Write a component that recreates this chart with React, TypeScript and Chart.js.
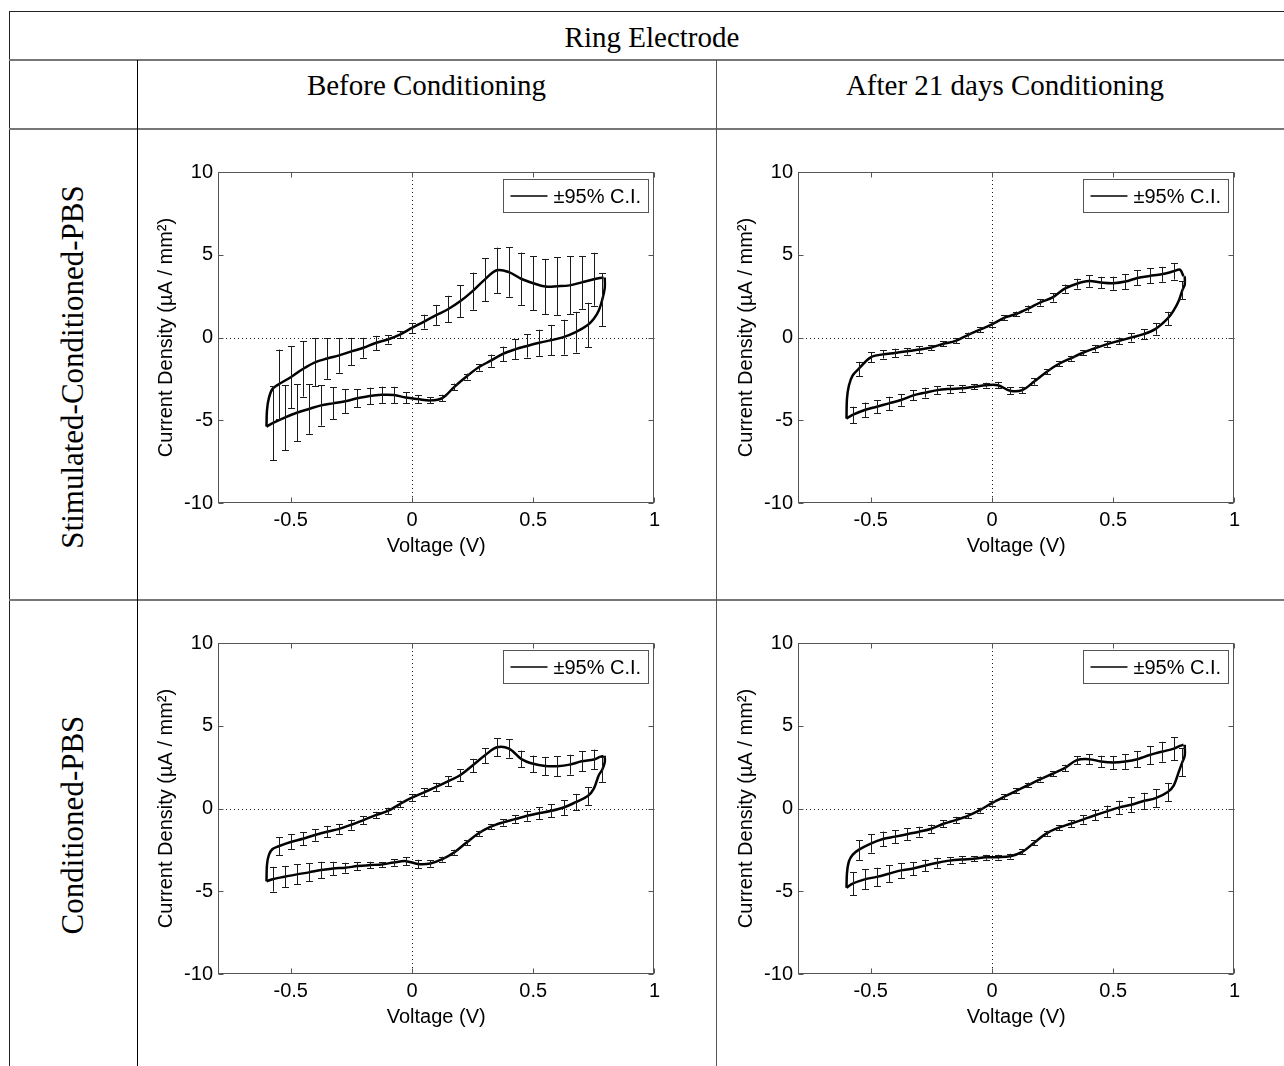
import React, { useEffect, useRef } from "react";
import { Chart, registerables } from "chart.js";

Chart.register(...registerables);

// ---------- data ----------
const X_TICKS = [-0.5, 0, 0.5, 1];
const Y_TICKS = [-10, -5, 0, 5, 10];

// voltage grid of the anodic (forward, upper) scan
const FWD_V = [-0.6, -0.598, -0.59, -0.575, -0.55, -0.5, -0.45, -0.4, -0.35, -0.3, -0.25, -0.2, -0.15, -0.1, -0.05, 0, 0.05, 0.1, 0.15, 0.2, 0.25, 0.3, 0.35, 0.4, 0.45, 0.5, 0.55, 0.6, 0.65, 0.7, 0.75, 0.775, 0.79];
// voltage grid of the cathodic (reverse, lower) scan
const REV_V = [0.795, 0.795, 0.785, 0.77, 0.75, 0.725, 0.675, 0.625, 0.575, 0.525, 0.475, 0.425, 0.375, 0.325, 0.275, 0.225, 0.175, 0.125, 0.075, 0.025, -0.025, -0.075, -0.125, -0.175, -0.225, -0.275, -0.325, -0.375, -0.425, -0.475, -0.525, -0.575, -0.6];

// Stimulated-Conditioned-PBS, before conditioning
const P1_FWD_I = [-5.38, -4.4, -3.65, -3.1, -2.83, -2.4, -1.9, -1.5, -1.27, -1.08, -0.84, -0.62, -0.33, -0.12, 0.18, 0.58, 0.96, 1.35, 1.72, 2.2, 2.8, 3.5, 4.06, 3.95, 3.55, 3.28, 3.08, 3.1, 3.15, 3.33, 3.52, 3.6, 3.62];
const P1_FWD_ERR = [null, null, null, null, 2.1, 1.87, 1.67, 1.45, 1.23, 1.05, 0.82, 0.6, 0.43, 0.25, 0.2, 0.3, 0.42, 0.62, 0.8, 0.97, 1.12, 1.3, 1.37, 1.49, 1.58, 1.62, 1.67, 1.74, 1.76, 1.6, 1.6, null, null];
const P1_REV_I = [3.62, 3.0, 2.3, 1.62, 1.13, 0.75, 0.32, 0.02, -0.16, -0.32, -0.51, -0.72, -0.99, -1.4, -1.8, -2.36, -2.98, -3.66, -3.8, -3.72, -3.63, -3.47, -3.46, -3.53, -3.67, -3.85, -3.98, -4.1, -4.32, -4.55, -4.84, -5.18, -5.38];
const P1_REV_ERR = [null, null, 1.6, null, null, 1.35, 1.23, 1.05, 0.92, 0.79, 0.7, 0.6, 0.44, 0.37, 0.2, 0.18, 0.2, 0.2, 0.18, 0.25, 0.34, 0.49, 0.49, 0.5, 0.55, 0.73, 0.97, 1.22, 1.5, 1.72, 1.97, 2.24, null];

// Stimulated-Conditioned-PBS, after 21 days conditioning
const P2_FWD_I = [-4.9, -3.7, -2.9, -2.3, -1.9, -1.2, -1.02, -0.93, -0.83, -0.73, -0.6, -0.38, -0.2, 0.15, 0.47, 0.8, 1.18, 1.42, 1.75, 2.12, 2.42, 2.95, 3.25, 3.41, 3.32, 3.28, 3.38, 3.6, 3.72, 3.82, 4.0, 4.1, 3.7];
const P2_FWD_ERR = [null, null, null, null, 0.43, 0.3, 0.25, 0.25, 0.2, 0.2, 0.15, 0.15, 0.15, 0.15, 0.15, 0.15, 0.15, 0.15, 0.18, 0.2, 0.25, 0.25, 0.3, 0.35, 0.35, 0.4, 0.45, 0.45, 0.45, 0.45, 0.5, null, null];
const P2_REV_I = [3.7, 3.2, 2.85, 2.2, 1.65, 1.15, 0.52, 0.2, 0.0, -0.2, -0.4, -0.65, -0.92, -1.26, -1.6, -2.08, -2.65, -3.18, -3.22, -2.88, -2.88, -2.98, -3.07, -3.11, -3.18, -3.33, -3.5, -3.78, -3.98, -4.18, -4.38, -4.68, -4.9];
const P2_REV_ERR = [null, null, 0.55, null, null, 0.4, 0.35, 0.3, 0.25, 0.2, 0.2, 0.2, 0.15, 0.15, 0.15, 0.15, 0.2, 0.2, 0.2, 0.2, 0.15, 0.15, 0.2, 0.25, 0.25, 0.3, 0.3, 0.35, 0.4, 0.4, 0.45, 0.5, null];

// Conditioned-PBS, before conditioning
const P3_FWD_I = [-4.4, -3.4, -2.8, -2.45, -2.28, -2.02, -1.83, -1.6, -1.4, -1.23, -0.98, -0.7, -0.4, -0.15, 0.27, 0.66, 0.98, 1.3, 1.65, 2.02, 2.6, 3.2, 3.7, 3.62, 3.0, 2.7, 2.57, 2.56, 2.65, 2.85, 2.96, 3.12, 3.18];
const P3_FWD_ERR = [null, null, null, null, 0.55, 0.45, 0.4, 0.35, 0.35, 0.3, 0.3, 0.25, 0.2, 0.2, 0.2, 0.2, 0.25, 0.25, 0.3, 0.35, 0.4, 0.45, 0.55, 0.55, 0.5, 0.5, 0.55, 0.6, 0.6, 0.6, 0.6, null, null];
const P3_REV_I = [3.18, 2.8, 2.36, 2.0, 1.2, 0.75, 0.38, 0.06, -0.14, -0.28, -0.44, -0.64, -0.84, -1.1, -1.5, -2.06, -2.64, -3.06, -3.32, -3.35, -3.18, -3.26, -3.38, -3.42, -3.48, -3.58, -3.62, -3.72, -3.86, -3.98, -4.12, -4.27, -4.4];
const P3_REV_ERR = [null, null, 0.75, null, null, 0.55, 0.5, 0.45, 0.4, 0.35, 0.3, 0.25, 0.2, 0.15, 0.15, 0.15, 0.15, 0.15, 0.2, 0.25, 0.25, 0.2, 0.15, 0.2, 0.25, 0.3, 0.4, 0.5, 0.55, 0.6, 0.65, 0.75, null];

// Conditioned-PBS, after 21 days conditioning
const P4_FWD_I = [-4.79, -3.9, -3.2, -2.8, -2.5, -2.12, -1.84, -1.7, -1.55, -1.4, -1.22, -0.92, -0.7, -0.44, -0.1, 0.33, 0.71, 1.07, 1.42, 1.78, 2.1, 2.44, 2.92, 2.98, 2.84, 2.78, 2.84, 2.98, 3.23, 3.43, 3.62, 3.78, 3.85];
const P4_FWD_ERR = [null, null, null, null, 0.6, 0.55, 0.45, 0.4, 0.35, 0.3, 0.25, 0.2, 0.2, 0.15, 0.15, 0.15, 0.15, 0.15, 0.15, 0.15, 0.15, 0.2, 0.25, 0.3, 0.35, 0.4, 0.45, 0.5, 0.55, 0.6, 0.7, null, null];
const P4_REV_I = [3.85, 3.2, 2.8, 2.2, 1.4, 1.0, 0.63, 0.45, 0.23, 0.07, -0.17, -0.41, -0.67, -0.92, -1.16, -1.5, -2.06, -2.62, -2.88, -2.94, -2.95, -3.04, -3.08, -3.15, -3.28, -3.44, -3.63, -3.74, -3.94, -4.13, -4.28, -4.54, -4.79];
const P4_REV_ERR = [null, null, 0.85, null, null, 0.55, 0.55, 0.5, 0.45, 0.4, 0.35, 0.3, 0.25, 0.2, 0.15, 0.15, 0.15, 0.15, 0.15, 0.15, 0.15, 0.15, 0.2, 0.2, 0.3, 0.35, 0.4, 0.45, 0.5, 0.55, 0.6, 0.7, null];

const TITLE = "Ring Electrode";
const COL_LABELS = ["Before Conditioning", "After 21 days Conditioning"];
const ROW_LABELS = ["Stimulated-Conditioned-PBS", "Conditioned-PBS"];
const X_TITLE = "Voltage (V)";
const Y_TITLE = "Current Density (\u00B5A / mm\u00B2)";
const LEGEND_LABEL = "\u00B195% C.I.";

// ---------- chart ----------
const SANS = "'Liberation Sans', Arial, Helvetica, sans-serif";
const SERIF = "'Liberation Serif', 'Times New Roman', serif";
const AX_FONT = { family: SANS, size: 20 };

const cvPlugin = {
  id: "cvDecor",
  beforeDatasetsDraw(chart: any) {
    const { ctx, chartArea: a, scales } = chart;
    const x = scales.x, y = scales.y;
    ctx.save();
    ctx.strokeStyle = "#222";
    ctx.lineWidth = 1;
    ctx.setLineDash([1, 3]);
    const x0 = Math.round(x.getPixelForValue(0)) + 0.5;
    const y0 = Math.round(y.getPixelForValue(0)) + 0.5;
    ctx.beginPath();
    ctx.moveTo(x0, a.top);
    ctx.lineTo(x0, a.bottom);
    ctx.moveTo(a.left, y0);
    ctx.lineTo(a.right, y0);
    ctx.stroke();
    ctx.restore();
  },
  afterDatasetsDraw(chart: any) {
    const { ctx, chartArea: a, scales } = chart;
    const x = scales.x, y = scales.y;
    ctx.save();
    // error bars
    ctx.strokeStyle = "#1a1a1a";
    ctx.lineWidth = 1;
    chart.data.datasets.forEach((ds: any) => {
      const errs = ds.errors;
      if (!errs) return;
      ds.data.forEach((p: any, j: number) => {
        const e = errs[j];
        if (e == null) return;
        const px = Math.round(x.getPixelForValue(p.x)) + 0.5;
        const yt = y.getPixelForValue(p.y + e);
        const yb = y.getPixelForValue(p.y - e);
        ctx.beginPath();
        ctx.moveTo(px, yt);
        ctx.lineTo(px, yb);
        ctx.moveTo(px - 3.5, Math.round(yt) + 0.5);
        ctx.lineTo(px + 3.5, Math.round(yt) + 0.5);
        ctx.moveTo(px - 3.5, Math.round(yb) + 0.5);
        ctx.lineTo(px + 3.5, Math.round(yb) + 0.5);
        ctx.stroke();
      });
    });
    // axes box with inward ticks on all sides
    ctx.strokeStyle = "#555";
    ctx.lineWidth = 1;
    const L = Math.round(a.left) + 0.5, R = Math.round(a.right) - 0.5;
    const T = Math.round(a.top) + 0.5, B = Math.round(a.bottom) - 0.5;
    ctx.strokeRect(L, T, R - L, B - T);
    ctx.beginPath();
    const tl = 5;
    X_TICKS.forEach((v) => {
      const px = Math.round(x.getPixelForValue(v)) + 0.5;
      ctx.moveTo(px, B); ctx.lineTo(px, B - tl);
      ctx.moveTo(px, T); ctx.lineTo(px, T + tl);
    });
    Y_TICKS.forEach((v) => {
      const py = Math.round(y.getPixelForValue(v)) + 0.5;
      ctx.moveTo(L, py); ctx.lineTo(L + tl, py);
      ctx.moveTo(R, py); ctx.lineTo(R - tl, py);
    });
    ctx.stroke();
    // legend box (top right, inside axes)
    const label = chart.data.datasets[0].label;
    ctx.font = `20px ${SANS}`;
    const tw = ctx.measureText(label).width;
    const bw = Math.round(50 + tw + 7), bh = 33;
    const bx = Math.round(a.right) - 6 - bw + 0.5;
    const by = Math.round(a.top) + 7 + 0.5;
    ctx.fillStyle = "#fff";
    ctx.fillRect(bx, by, bw, bh);
    ctx.strokeStyle = "#555";
    ctx.strokeRect(bx, by, bw, bh);
    ctx.strokeStyle = "#000";
    ctx.lineWidth = 1.5;
    ctx.beginPath();
    ctx.moveTo(bx + 7, by + bh / 2);
    ctx.lineTo(bx + 44, by + bh / 2);
    ctx.stroke();
    ctx.fillStyle = "#000";
    ctx.textBaseline = "middle";
    ctx.textAlign = "left";
    ctx.fillText(label, bx + 50, by + bh / 2 + 1);
    ctx.restore();
  },
};

type PanelProps = {
  fwdI: number[];
  fwdErr: (number | null)[];
  revI: number[];
  revErr: (number | null)[];
  left: number;
  top: number;
};

function CVChart({ fwdI, fwdErr, revI, revErr, left, top }: PanelProps) {
  const ref = useRef<HTMLCanvasElement>(null);
  useEffect(() => {
    if (!ref.current) return;
    const lineStyle = {
      showLine: true,
      borderColor: "#000",
      backgroundColor: "#000",
      borderWidth: 2.5,
      pointRadius: 0,
      pointHoverRadius: 0,
      tension: 0.35,
      fill: false,
    };
    const chart = new Chart(ref.current, {
      type: "scatter",
      data: {
        datasets: [
          {
            ...lineStyle,
            label: LEGEND_LABEL,
            data: FWD_V.map((v, i) => ({ x: v, y: fwdI[i] })),
            errors: fwdErr,
          } as any,
          {
            ...lineStyle,
            label: LEGEND_LABEL + " (reverse)",
            data: REV_V.map((v, i) => ({ x: v, y: revI[i] })),
            errors: revErr,
          } as any,
        ],
      },
      options: {
        responsive: false,
        animation: false,
        events: [],
        layout: { padding: { left: 0, top: 13, right: 8, bottom: 0 } },
        plugins: { legend: { display: false }, tooltip: { enabled: false } },
        scales: {
          x: {
            type: "linear",
            min: -0.8,
            max: 1,
            afterBuildTicks: (s: any) => {
              s.ticks = X_TICKS.map((v) => ({ value: v }));
            },
            afterFit: (s: any) => {
              s.height = 62;
            },
            grid: { display: false, drawTicks: false },
            border: { display: false },
            ticks: {
              color: "#000",
              font: AX_FONT,
              padding: 5,
              maxRotation: 0,
              autoSkip: false,
              callback: (v: any) => String(v),
            },
            title: {
              display: true,
              text: X_TITLE,
              color: "#000",
              font: AX_FONT,
              padding: { top: 7, bottom: 7 },
            },
          },
          y: {
            type: "linear",
            min: -10,
            max: 10,
            afterBuildTicks: (s: any) => {
              s.ticks = Y_TICKS.map((v) => ({ value: v }));
            },
            afterFit: (s: any) => {
              s.width = 73;
            },
            grid: { display: false, drawTicks: false },
            border: { display: false },
            ticks: {
              color: "#000",
              font: AX_FONT,
              padding: 5,
              autoSkip: false,
              callback: (v: any) => String(v),
            },
            title: {
              display: true,
              text: Y_TITLE,
              color: "#000",
              font: AX_FONT,
              padding: { top: 9, bottom: 9 },
            },
          },
        },
      } as any,
      plugins: [cvPlugin as any],
    });
    return () => chart.destroy();
  }, []);
  return (
    <canvas
      ref={ref}
      width={520}
      height={410}
      style={{ position: "absolute", left, top, width: 520, height: 410 }}
    />
  );
}

const PANELS: PanelProps[] = [
  { fwdI: P1_FWD_I, fwdErr: P1_FWD_ERR, revI: P1_REV_I, revErr: P1_REV_ERR, left: 145, top: 155 },
  { fwdI: P2_FWD_I, fwdErr: P2_FWD_ERR, revI: P2_REV_I, revErr: P2_REV_ERR, left: 725, top: 155 },
  { fwdI: P3_FWD_I, fwdErr: P3_FWD_ERR, revI: P3_REV_I, revErr: P3_REV_ERR, left: 145, top: 626 },
  { fwdI: P4_FWD_I, fwdErr: P4_FWD_ERR, revI: P4_REV_I, revErr: P4_REV_ERR, left: 725, top: 626 },
];

function Rule(props: { left: number; top: number; width: number; height: number; color: string }) {
  const { left, top, width, height, color } = props;
  return <div style={{ position: "absolute", left, top, width, height, background: color }} />;
}

export default function App() {
  const headerStyle: React.CSSProperties = {
    position: "absolute",
    fontFamily: SERIF,
    fontSize: 29,
    lineHeight: "34px",
    height: 34,
    textAlign: "center",
    color: "#000",
    whiteSpace: "nowrap",
  };
  const rotStyle = (cy: number): React.CSSProperties => ({
    position: "absolute",
    left: 73 - 250,
    top: cy - 20,
    width: 500,
    height: 40,
    lineHeight: "40px",
    textAlign: "center",
    fontFamily: SERIF,
    fontSize: 31,
    color: "#000",
    whiteSpace: "nowrap",
    transform: "rotate(-90deg)",
    transformOrigin: "50% 50%",
  });
  return (
    <div
      style={{
        position: "absolute",
        left: 0,
        top: 0,
        width: 1284,
        height: 1066,
        overflow: "hidden",
        background: "#fff",
      }}
    >
      {/* table rules */}
      <Rule left={9} top={11} width={1290} height={1} color="#222" />
      <Rule left={9} top={11} width={1} height={1060} color="#222" />
      <Rule left={9} top={59} width={1290} height={2} color="#777" />
      <Rule left={9} top={128} width={1290} height={2} color="#777" />
      <Rule left={9} top={599} width={1290} height={2} color="#777" />
      <Rule left={137} top={60} width={1} height={1010} color="#000" />
      <Rule left={716} top={60} width={1} height={1010} color="#555" />

      <div style={{ ...headerStyle, left: 9, width: 1286, top: 20 }}>{TITLE}</div>
      <div style={{ ...headerStyle, left: 137, width: 579, top: 68 }}>{COL_LABELS[0]}</div>
      <div style={{ ...headerStyle, left: 716, width: 578, top: 68 }}>{COL_LABELS[1]}</div>
      <div style={rotStyle(367)}>{ROW_LABELS[0]}</div>
      <div style={rotStyle(825)}>{ROW_LABELS[1]}</div>

      {PANELS.map((p, i) => (
        <CVChart key={i} {...p} />
      ))}
    </div>
  );
}
